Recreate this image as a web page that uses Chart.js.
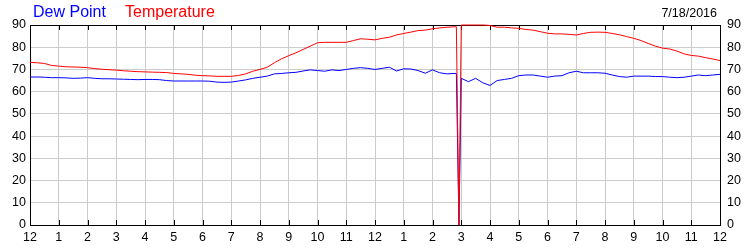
<!DOCTYPE html>
<html lang="en">
<head>
<meta charset="UTF-8">
<title>Dew Point / Temperature</title>
<style>
    body {
        margin: 0;
        background: #fff;
        font-family: "Liberation Sans", Arial, sans-serif;
    }
    #wrap {
        position: relative;
        width: 750px;
        height: 250px;
    }
    .serie {
        position: absolute;
        top: 4px;
        font-size: 16px;
        line-height: 16px;
        white-space: nowrap;
    }
    #dew { left: 33px; color: #0000ff; }
    #temp { left: 125px; color: #ff0000; }
    #date {
        position: absolute;
        top: 7px;
        right: 33px;
        font-size: 12.5px;
        line-height: 12.5px;
        color: #000;
    }
</style>
<script src="https://cdn.jsdelivr.net/npm/chart.js"></script>
</head>
<body>
<div id="wrap">
    <canvas id="chart" width="750" height="250"></canvas>
    <span class="serie" id="dew">Dew Point</span>
    <span class="serie" id="temp">Temperature</span>
    <span id="date">7/18/2016</span>
</div>

<script>
    // sample times in hours after midnight (extra samples around the 2:55 PM dropout)
    const hours = [
        0, 0.25, 0.5, 0.75, 1, 1.25, 1.5, 1.75, 2, 2.25, 2.5, 2.75,
        3, 3.25, 3.5, 3.75, 4, 4.25, 4.5, 4.75, 5, 5.25, 5.5, 5.75,
        6, 6.25, 6.5, 6.75, 7, 7.25, 7.5, 7.75, 8, 8.25, 8.5, 8.75,
        9, 9.25, 9.5, 9.75, 10, 10.25, 10.5, 10.75, 11, 11.25, 11.5, 11.75,
        12, 12.25, 12.5, 12.75, 13, 13.25, 13.5, 13.75, 14, 14.25, 14.5, 14.75,
        14.83, 14.92,
        15, 15.25, 15.5, 15.75, 16, 16.25, 16.5, 16.75, 17, 17.25, 17.5, 17.75,
        18, 18.25, 18.5, 18.75, 19, 19.25, 19.5, 19.75, 20, 20.25, 20.5, 20.75,
        21, 21.25, 21.5, 21.75, 22, 22.25, 22.5, 22.75, 23, 23.25, 23.5, 23.75,
        24
    ];

    const temperature = [
        73.2, 73.0, 72.7, 71.8, 71.5, 71.2, 71.1, 71.0, 70.8, 70.4, 70.1, 69.9,
        69.7, 69.4, 69.2, 69.0, 68.9, 68.8, 68.7, 68.6, 68.2, 68.0, 67.8, 67.4,
        67.2, 67.1, 66.9, 66.9, 66.9, 67.3, 68.0, 69.2, 70.0, 71.0, 73.0, 74.8,
        76.2, 77.5, 79.0, 80.5, 82.0, 82.2, 82.2, 82.2, 82.2, 83.0, 83.8, 83.6,
        83.3, 84.0, 84.5, 85.5, 86.2, 86.8, 87.5, 87.7, 88.3, 88.7, 89.0, 89.2,
        89.2, 0,
        90, 90, 90, 90, 89.8, 89.0, 89.0, 88.7, 88.5, 88.0, 87.7, 87.0,
        86.3, 86.0, 86.0, 85.8, 85.5, 86.2, 86.7, 86.8, 86.7, 86.2, 85.6, 84.8,
        84.0, 83.0, 81.7, 80.5, 79.6, 79.2, 78.3, 77.0, 76.3, 76.0, 75.3, 74.7,
        74.0
    ];

    const dewPoint = [
        66.6, 66.6, 66.5, 66.3, 66.3, 66.2, 66.0, 66.1, 66.3, 66.0, 65.8, 65.8,
        65.7, 65.6, 65.5, 65.4, 65.5, 65.5, 65.4, 65.0, 64.8, 64.8, 64.8, 64.8,
        64.8, 64.7, 64.3, 64.2, 64.3, 64.8, 65.3, 66.0, 66.5, 67.0, 68.0, 68.2,
        68.5, 68.7, 69.3, 69.8, 69.5, 69.2, 69.8, 69.5, 70.0, 70.5, 70.8, 70.5,
        70.0, 70.5, 71.0, 69.3, 70.3, 70.2, 69.5, 68.3, 69.8, 68.5, 68.0, 68.2,
        68.2, 0,
        66.0, 64.5, 66.0, 64.0, 62.8, 65.0, 65.5, 66.0, 67.2, 67.5, 67.5, 67.0,
        66.5, 67.0, 67.2, 68.5, 69.2, 68.5, 68.5, 68.5, 68.3, 67.5, 66.8, 66.5,
        67.0, 67.0, 67.0, 66.8, 66.8, 66.5, 66.3, 66.5, 67.0, 67.5, 67.2, 67.5,
        67.8
    ];

    // x axis labels: 12, 1 ... 11, 12, 1 ... 11, 12
    const hourLabels = [12, 1, 2, 3, 4, 5, 6, 7, 8, 9, 10, 11, 12, 1, 2, 3, 4, 5, 6, 7, 8, 9, 10, 11, 12];

    const tickFont = { family: '"Liberation Sans", Arial, sans-serif', size: 12.5 };

    // top border and the small inward tick marks on top and bottom
    const frameTicks = {
        id: 'frameTicks',
        beforeDatasetsDraw(chart) {
            const { ctx, chartArea: a, scales: { x } } = chart;
            ctx.save();
            ctx.strokeStyle = '#000';
            ctx.lineWidth = 1;
            ctx.beginPath();
            ctx.moveTo(a.left, a.top + 0.5);
            ctx.lineTo(a.right + 1, a.top + 0.5);
            x.ticks.forEach(t => {
                const px = Math.round(x.getPixelForValue(t.value)) + 0.5;
                ctx.moveTo(px, a.top);
                ctx.lineTo(px, a.top + 5);
                ctx.moveTo(px, a.bottom);
                ctx.lineTo(px, a.bottom - 5);
            });
            ctx.stroke();
            ctx.restore();
        }
    };

    new Chart(document.getElementById('chart'), {
        type: 'line',
        data: {
            datasets: [
                {
                    label: 'Temperature',
                    data: hours.map((h, i) => ({ x: h, y: temperature[i] })),
                    borderColor: '#ff0000',
                    borderWidth: 1,
                    pointRadius: 0,
                    tension: 0,
                    clip: 2
                },
                {
                    label: 'Dew Point',
                    data: hours.map((h, i) => ({ x: h, y: dewPoint[i] })),
                    borderColor: '#0000ff',
                    borderWidth: 1,
                    pointRadius: 0,
                    tension: 0
                }
            ]
        },
        options: {
            responsive: false,
            animation: false,
            layout: { padding: { top: 25 } },
            plugins: {
                legend: { display: false },
                tooltip: { enabled: false }
            },
            scales: {
                x: {
                    type: 'linear',
                    min: 0,
                    max: 24,
                    afterFit: s => { s.height = 25; },
                    grid: { color: '#cccccc', drawTicks: false },
                    border: { color: '#000' },
                    ticks: {
                        stepSize: 1,
                        padding: 5,
                        color: '#000',
                        font: tickFont,
                        maxRotation: 0,
                        autoSkip: false,
                        callback: v => hourLabels[v]
                    }
                },
                y: {
                    position: 'left',
                    min: 0,
                    max: 90,
                    afterFit: s => { s.width = 30; },
                    grid: { color: '#cccccc', drawTicks: false },
                    border: { color: '#000' },
                    ticks: { stepSize: 10, padding: 4, color: '#000', font: tickFont }
                },
                y2: {
                    position: 'right',
                    min: 0,
                    max: 90,
                    afterFit: s => { s.width = 30; },
                    grid: { display: false, drawTicks: false },
                    border: { color: '#000' },
                    ticks: { stepSize: 10, padding: 7, color: '#000', font: tickFont }
                }
            }
        },
        plugins: [frameTicks]
    });
</script>
</body>
</html>
